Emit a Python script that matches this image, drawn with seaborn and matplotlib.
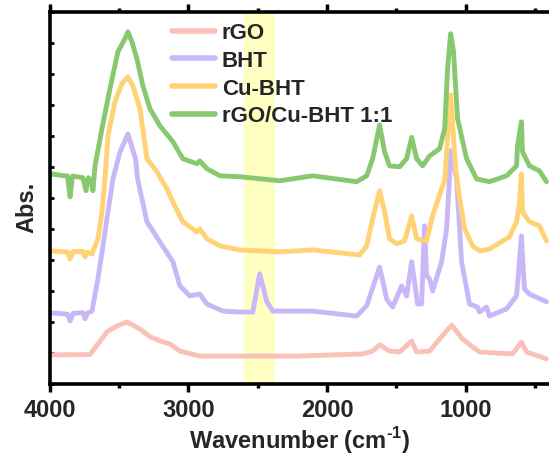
import matplotlib
matplotlib.use("Agg")
import matplotlib.pyplot as plt
import seaborn as sns
import numpy as np
import pandas as pd

# FTIR spectra, vertically stacked (Abs., arbitrary units with offsets)
wn_rgo = [3990, 3708, 3586, 3514, 3442, 3348, 3276, 3204, 3132, 3060, 2917, 2629,
          2218, 1743, 1671, 1621, 1549, 1477, 1390, 1354, 1261, 1189, 1102, 1023,
          901, 663, 599, 562, 418]
abs_rgo = [0.94, 0.95, 1.68, 1.87, 2.00, 1.77, 1.52, 1.39, 1.29, 1.06, 0.90, 0.90,
           0.90, 0.97, 1.06, 1.26, 1.06, 1.03, 1.39, 1.03, 1.06, 1.45, 1.90, 1.45,
           1.03, 0.97, 1.35, 1.03, 0.81]

wn_bht = [3990, 3870, 3852, 3830, 3760, 3744, 3725, 3694, 3651, 3615, 3579, 3543,
          3492, 3435, 3380, 3365, 3298, 3204, 3111, 3060, 2988, 2917, 2866, 2751,
          2629, 2535, 2485, 2434, 2391, 2103, 1786, 1714, 1621, 1570, 1527, 1462,
          1426, 1390, 1347, 1318, 1297, 1282, 1261, 1239, 1174, 1138, 1117, 1109,
          1066, 1030, 973, 915, 901, 850, 829, 706, 634, 613, 599, 577, 541, 418]
abs_bht = [2.29, 2.25, 2.03, 2.28, 2.30, 2.10, 2.29, 2.35, 3.39, 4.45, 5.55, 6.61,
           7.48, 8.06, 7.26, 6.61, 5.23, 4.58, 3.94, 3.16, 2.84, 2.90, 2.58, 2.35,
           2.32, 2.32, 3.55, 2.65, 2.35, 2.35, 2.19, 2.52, 3.77, 2.74, 2.48, 3.16,
           2.84, 3.94, 2.58, 2.58, 5.10, 3.48, 3.39, 3.00, 3.94, 5.00, 6.61, 7.52,
           6.61, 3.94, 2.58, 2.48, 2.32, 2.48, 2.19, 2.42, 2.84, 3.94, 4.77, 3.06,
           2.90, 2.65]

wn_cubht = [3990, 3870, 3852, 3830, 3760, 3744, 3725, 3694, 3651, 3622, 3600, 3579,
            3528, 3478, 3435, 3399, 3348, 3298, 3226, 3154, 3111, 3039, 2938, 2917,
            2866, 2772, 2629, 2341, 2103, 1765, 1714, 1671, 1621, 1585, 1549, 1498,
            1441, 1390, 1354, 1282, 1239, 1174, 1152, 1109, 1073, 1044, 1008, 951,
            901, 829, 685, 634, 613, 599, 591, 541, 469, 418]
abs_cubht = [4.29, 4.25, 4.03, 4.27, 4.27, 4.10, 4.25, 4.19, 4.68, 5.55, 6.61, 8.00,
             9.10, 9.68, 9.90, 9.61, 8.87, 7.26, 6.84, 6.29, 5.87, 5.23, 4.90, 5.00,
             4.68, 4.45, 4.32, 4.26, 4.32, 4.16, 4.45, 5.32, 6.23, 5.55, 4.68, 4.52,
             4.61, 5.42, 4.68, 4.61, 5.42, 6.29, 6.55, 9.32, 6.94, 5.97, 5.00, 4.45,
             4.29, 4.35, 4.74, 5.23, 5.81, 6.77, 5.55, 5.23, 5.10, 4.61]

wn_comp = [3990, 3870, 3852, 3835, 3760, 3737, 3720, 3700, 3687, 3672, 3622, 3564,
           3507, 3456, 3435, 3406, 3370, 3327, 3276, 3204, 3111, 3039, 2938, 2917,
           2866, 2772, 2629, 2341, 2103, 1786, 1714, 1671, 1621, 1585, 1549, 1477,
           1426, 1390, 1354, 1311, 1261, 1189, 1152, 1131, 1109, 1088, 1059, 994,
           922, 829, 706, 634, 627, 599, 591, 541, 469, 418]
abs_comp = [6.77, 6.70, 6.03, 6.70, 6.65, 6.23, 6.65, 6.55, 6.23, 7.03, 8.23, 9.52,
            10.71, 11.13, 11.35, 11.03, 10.48, 9.61, 8.87, 8.32, 7.81, 7.26, 7.10, 7.19,
            6.94, 6.71, 6.68, 6.55, 6.71, 6.52, 6.71, 7.26, 8.35, 7.48, 7.03, 7.00,
            7.26, 7.95, 7.26, 7.03, 7.35, 7.58, 8.23, 10.16, 11.29, 10.71, 8.55, 7.26,
            6.61, 6.52, 6.71, 7.03, 7.68, 8.45, 7.48, 7.03, 6.87, 6.52]

labels = ["rGO", "BHT", "Cu-BHT", "rGO/Cu-BHT 1:1"]
colors = ["#F9C1B7", "#C9B8F7", "#FFD275", "#88C86F"]
highlight = (2600, 2375)

sns.set_theme(style="white")
plt.rcParams["font.family"] = ["Liberation Sans", "DejaVu Sans"]
plt.rcParams["font.weight"] = "bold"
plt.rcParams["mathtext.fontset"] = "custom"
plt.rcParams["mathtext.rm"] = "Liberation Sans:bold"
plt.rcParams["mathtext.bf"] = "Liberation Sans:bold"

fig = plt.figure(figsize=(5.49, 4.56), dpi=100)
ax = fig.add_axes([0.0902, 0.1557, 0.9098, 0.8165])

ax.axvspan(highlight[0], highlight[1], color="#FFFFC2", zorder=0, lw=0)

series = [(wn_rgo, abs_rgo), (wn_bht, abs_bht), (wn_cubht, abs_cubht), (wn_comp, abs_comp)]
for (wn, ab), lab, col in zip(series, labels, colors):
    df = pd.DataFrame({"wn": wn, "abs": ab})
    sns.lineplot(data=df, x="wn", y="abs", ax=ax, color=col, lw=3.5,
                 label=lab, estimator=None, sort=False, zorder=2)

ax.set_xlim(4000, 400)
ax.set_ylim(0, 12)
ax.set_xticks([4000, 3000, 2000, 1000])
ax.set_xticks([3500, 2500, 1500, 500], minor=True)
ax.set_yticks(np.arange(0, 13, 1))
ax.set_yticklabels([])
ax.tick_params(axis="x", which="major", direction="out", length=6, width=2.5,
               labelsize=17, pad=4, bottom=True, top=True, color="black")
ax.tick_params(axis="x", which="minor", direction="out", length=3, width=2.5,
               bottom=True, top=True, color="black")
ax.tick_params(axis="y", which="major", direction="in", length=3, width=2,
               left=True, color="black")
for lbl in ax.get_xticklabels():
    lbl.set_fontweight("bold")

for side in ["left", "bottom", "top"]:
    ax.spines[side].set_linewidth(2.6)
    ax.spines[side].set_color("black")
ax.spines["right"].set_visible(False)

ax.set_xlabel("Wavenumber (cm$^{\\text{-1}}$)", fontsize=17, fontweight="bold", labelpad=2)
ax.set_ylabel("Abs.", fontsize=17, fontweight="bold")
ax.yaxis.set_label_coords(-0.023, 0.478)

leg = ax.legend(loc="upper left", bbox_to_anchor=(0.245, 0.971), frameon=False,
                fontsize=16, handlelength=1.95, handletextpad=0.3,
                labelspacing=0.3, borderpad=0, borderaxespad=0)
for line in leg.get_lines():
    line.set_linewidth(4)
for t in leg.get_texts():
    t.set_fontweight("bold")

fig.savefig("out.png", dpi=100)
